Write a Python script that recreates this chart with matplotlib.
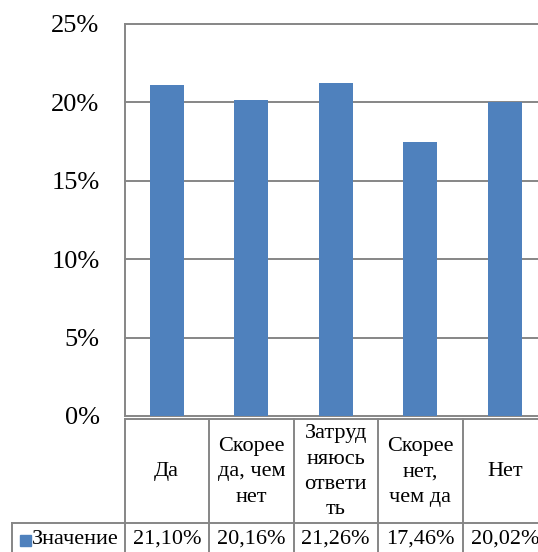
import matplotlib.pyplot as plt
import numpy as np

plt.rcParams['font.family'] = ['Liberation Serif', 'DejaVu Serif']

categories = ["Да", "Скорее\nда, чем\nнет", "Затруд\nняюсь\nответи\nть",
              "Скорее\nнет,\nчем да", "Нет"]
values = [21.10, 20.16, 21.26, 17.46, 20.02]
series_name = "Значение"
yticks = [0, 5, 10, 15, 20, 25]

bar_color = "#4F81BD"
line_color = "#868686"

W, H = 538, 552
fig = plt.figure(figsize=(W / 100, H / 100), dpi=100)

# plot area in pixels: left edge, right edge (past the image), top, zero line
x0, x1, ytop, yzero = 124.5, 547.0, 24.0, 416.0
ax = fig.add_axes([x0 / W, (H - yzero) / H, (x1 - x0) / W, (yzero - ytop) / H])
n = len(values)
xs = np.arange(n)
ax.bar(xs, values, width=0.4, color=bar_color, zorder=3)
ax.set_xlim(-0.5, n - 0.5)
ax.set_ylim(0, 25)
ax.set_yticks(yticks)
ax.set_yticklabels([f"{v}%" for v in yticks], fontsize=19)
ax.tick_params(axis="y", length=0, pad=18)
ax.set_xticks([])
for y in yticks:
    ax.axhline(y, color=line_color, lw=1.4, zorder=1, clip_on=False)
for s in ["top", "right", "bottom"]:
    ax.spines[s].set_visible(False)
ax.spines["left"].set_color(line_color)
ax.spines["left"].set_linewidth(1.4)

# data table under the axis, y in pixels from the image bottom
tab = fig.add_axes([x0 / W, 0, (x1 - x0) / W, (H - yzero) / H], sharex=ax)
tab.set_ylim(0, H - yzero)
tab.axis("off")
row_top, row_mid = H - 418.5, H - 523
label_left = -0.5 - (x0 - 12) / ((x1 - x0) / n)
kw = dict(color=line_color, lw=1.4, clip_on=False)
for i in range(n + 1):
    tab.plot([i - 0.5, i - 0.5], [-5, row_top], **kw)
tab.plot([-0.5, n - 0.5], [row_top, row_top], **kw)
tab.plot([label_left, n - 0.5], [row_mid, row_mid], **kw)
tab.plot([label_left, label_left], [-5, row_mid], **kw)

for x, cat, v in zip(xs, categories, values):
    tab.text(x, (row_top + row_mid) / 2 - 1, cat, ha="center", va="center",
             fontsize=16, linespacing=1.45, clip_on=False)
    tab.text(x, row_mid / 2 - 2, f"{v:.2f}%".replace(".", ","),
             ha="center", va="center", fontsize=16, clip_on=False)

px = (x1 - x0) / n
tab.add_patch(plt.Rectangle((label_left + 8 / px, row_mid / 2 - 8), 11 / px, 11,
                            color=bar_color, clip_on=False))
tab.text(label_left + 20 / px, row_mid / 2 - 2, series_name, ha="left",
         va="center", fontsize=16, clip_on=False)

fig.savefig("out.png", dpi=100)
